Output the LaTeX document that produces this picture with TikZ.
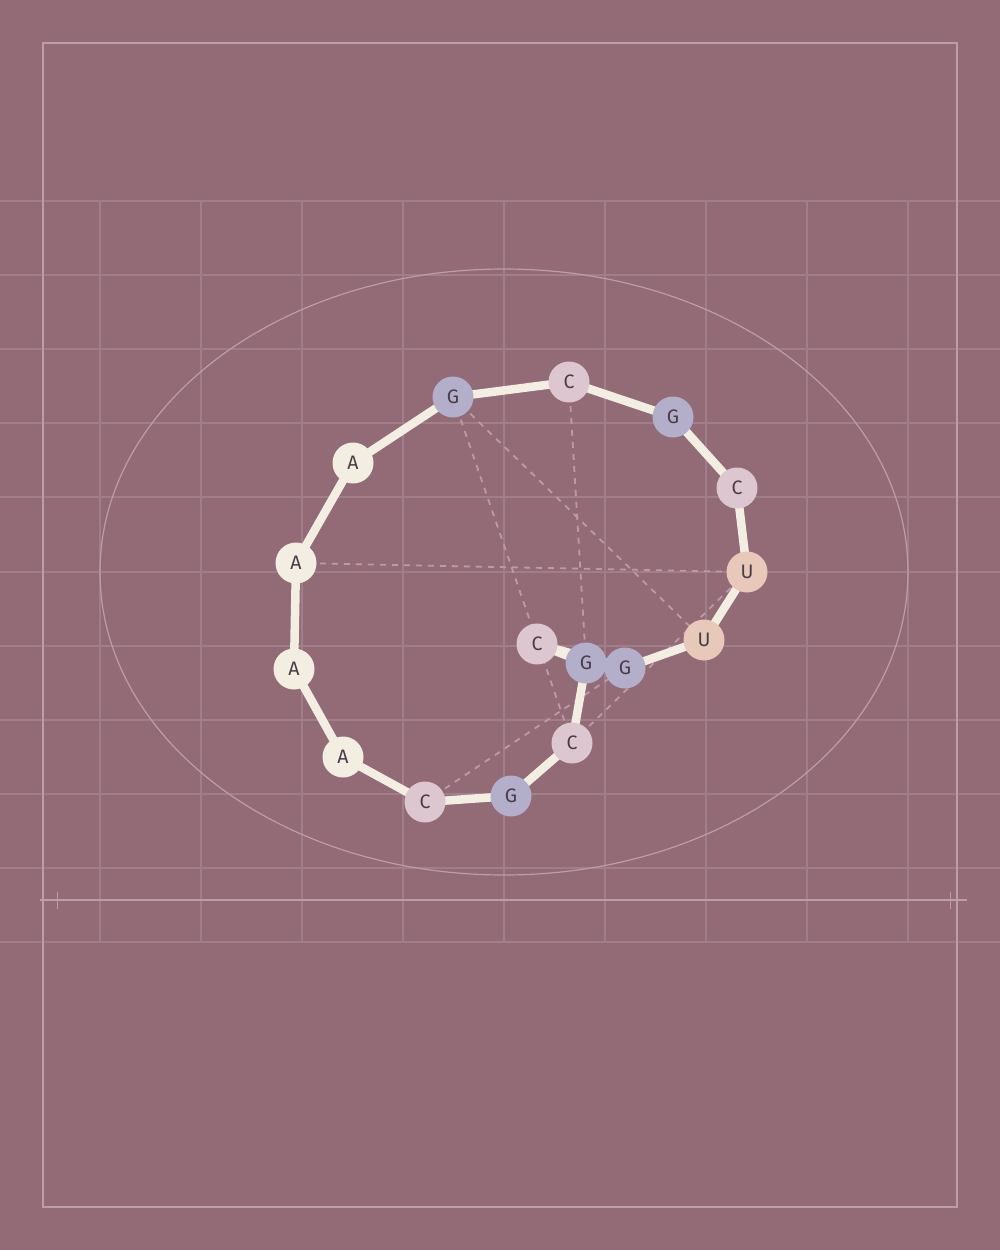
\documentclass[tikz,border=0pt]{standalone}
\usepackage{fontspec}
\setmainfont{Fira Sans}
\begin{document}
\begin{tikzpicture}[x=1pt,y=-1pt,
  nuc/.style={circle,minimum size=41pt,inner sep=0pt,text=txtc,font=\fontsize{19.5}{19.5}\selectfont},
  nA/.style={nuc,fill=colA},
  nG/.style={nuc,fill=colG},
  nC/.style={nuc,fill=colC},
  nU/.style={nuc,fill=colU},
  backbone/.style={draw=colA,line width=8.5pt},
  pair/.style={draw=pairc,line width=1.8pt,dash pattern=on 6pt off 6pt},
  gridl/.style={draw=gridc,line width=1.4pt},
  framel/.style={draw=framec,line width=1.4pt}]
\definecolor{bgc}{HTML}{926B77}
\definecolor{gridc}{HTML}{A07E8A}
\definecolor{framec}{HTML}{BC9EA8}
\definecolor{colA}{HTML}{F3EEE2}
\definecolor{colG}{HTML}{B3AECA}
\definecolor{colC}{HTML}{DCC6D0}
\definecolor{colU}{HTML}{E8C9B9}
\definecolor{txtc}{HTML}{4A3C47}
\definecolor{pairc}{HTML}{BE9AA8}
\fill[bgc] (0,0) rectangle (1000,1250);
\useasboundingbox (0,0) rectangle (1000,1250);
% grid
\foreach \y in {201,275,349,423,497,572,646,720,794,868,942}
  \draw[gridl] (0,\y) -- (1000,\y);
\foreach \x in {100,201,302,403,504,605,706,807,908}
  \draw[gridl] (\x,201) -- (\x,942);
% frame
\draw[framel] (43,43) rectangle (957,1207);
% axis
\draw[framel] (40,900) -- (967,900);
\draw[framel] (57.5,892) -- (57.5,909);
\draw[framel] (950.5,892) -- (950.5,909);
% ellipse
\draw[draw=framec,line width=1.2pt] (504,572) ellipse [x radius=404, y radius=303];
% node coordinates
\coordinate (p1) at (296,563);
\coordinate (p2) at (353,463);
\coordinate (p3) at (453,397);
\coordinate (p4) at (569,382);
\coordinate (p5) at (673,417);
\coordinate (p6) at (737,488);
\coordinate (p7) at (747,572);
\coordinate (p8) at (704,640);
\coordinate (p9) at (625,668);
\coordinate (p10) at (537,644);
\coordinate (p11) at (586,663);
\coordinate (p12) at (572,743);
\coordinate (p13) at (511,796);
\coordinate (p14) at (425,802);
\coordinate (p15) at (343,757);
\coordinate (p16) at (294,669);
% pairs
\draw[pair] (p3) -- (p12);
\draw[pair] (p3) -- (p8);
\draw[pair] (p4) -- (p11);
\draw[pair] (p1) -- (p7);
\draw[pair] (p14) -- (p9);
\draw[pair] (p12) -- (p7);
% backbone
\draw[backbone] (p1) -- (p2) -- (p3) -- (p4) -- (p5) -- (p6) -- (p7) -- (p8) -- (p9) -- (p10) -- (p11) -- (p12) -- (p13) -- (p14) -- (p15) -- (p16) -- cycle;
% nodes
\node[nA] (n1) at (p1) {A};
\node[nA] (n2) at (p2) {A};
\node[nG] (n3) at (p3) {G};
\node[nC] (n4) at (p4) {C};
\node[nG] (n5) at (p5) {G};
\node[nC] (n6) at (p6) {C};
\node[nU] (n7) at (p7) {U};
\node[nU] (n8) at (p8) {U};
\node[nC] (n10) at (p10) {C};
\node[nG] (n11) at (p11) {G};
\node[nG] (n9) at (p9) {G};
\node[nC] (n12) at (p12) {C};
\node[nG] (n13) at (p13) {G};
\node[nC] (n14) at (p14) {C};
\node[nA] (n15) at (p15) {A};
\node[nA] (n16) at (p16) {A};
\end{tikzpicture}
\end{document}
